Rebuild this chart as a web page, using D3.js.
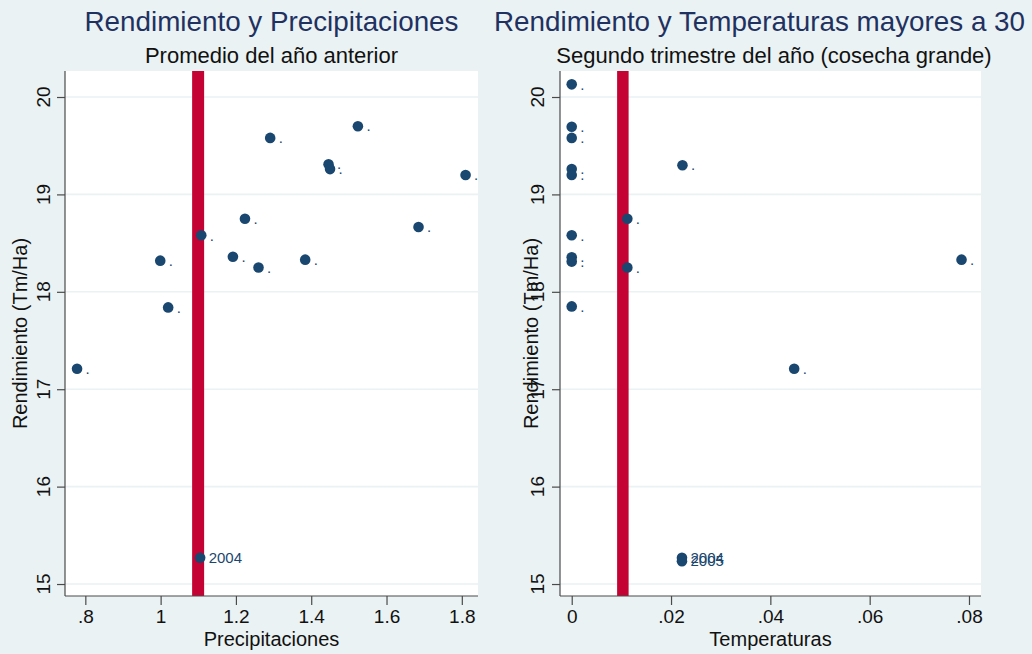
<!DOCTYPE html>
<html>
<head>
<meta charset="utf-8">
<script src="https://cdn.jsdelivr.net/npm/d3@7"></script>
<style>
  html, body { margin: 0; padding: 0; background: #eaf2f3; }
  svg { display: block; font-family: "Liberation Sans", Arial, Helvetica, sans-serif; }
</style>
</head>
<body>
<svg id="chart" width="1032" height="654"></svg>
<script>
// Yield (Tm/Ha) against previous-year average rainfall
const precipX = [0.778, 0.999, 1.020, 1.108, 1.192, 1.224, 1.260, 1.291, 1.384, 1.446, 1.450, 1.524, 1.685, 1.810, 1.105];
const precipY = [17.21, 18.32, 17.84, 18.58, 18.36, 18.75, 18.25, 19.58, 18.33, 19.31, 19.26, 19.70, 18.665, 19.20, 15.27];
const precipLabel = [".", ".", ".", ".", ".", ".", ".", ".", ".", ".", ".", ".", ".", ".", "2004"];
const precipRef = 1.0996;
const precipTicks = [0.8, 1, 1.2, 1.4, 1.6, 1.8];
const precipTickLabels = [".8", "1", "1.2", "1.4", "1.6", "1.8"];

// Yield against share of second-quarter days above 30 degrees
const tempX = [0, 0, 0, 0, 0, 0.0223, 0.0112, 0, 0, 0, 0.0112, 0, 0.0785, 0.0448, 0.0222, 0.0222];
const tempY = [20.13, 19.695, 19.58, 19.26, 19.20, 19.30, 18.75, 18.58, 18.355, 18.31, 18.25, 17.85, 18.33, 17.21, 15.27, 15.235];
const tempLabel = [".", ".", ".", ".", ".", ".", ".", ".", ".", ".", ".", ".", ".", ".", "2004", "2005"];
const tempRef = 0.0103;
const tempTicks = [0, 0.02, 0.04, 0.06, 0.08];
const tempTickLabels = ["0", ".02", ".04", ".06", ".08"];

const yieldTicks = [15, 16, 17, 18, 19, 20];

const NAVY = "#1a476f";
const RED = "#c40233";
const GRID = "#eaf2f3";
const AXIS = "#4a4a4a";

const svg = d3.select("#chart");

function panel(opts) {
  const { x0, x1, y0, y1, xDomain, yDomain, xs, ys, labels, ref, refWidth,
          xTicks, xTickLabels, title, titleX, titleAnchor, subtitle, subtitleX,
          xTitle, yTitleX, yTickBase } = opts;

  const x = d3.scaleLinear().domain(xDomain).range([x0, x1]);
  const y = d3.scaleLinear().domain(yDomain).range([y1, y0]);
  const g = svg.append("g");

  // plot region
  g.append("rect").attr("x", x0).attr("y", y0)
    .attr("width", x1 - x0).attr("height", y1 - y0).attr("fill", "#ffffff");

  // horizontal grid
  g.selectAll(".grid").data(yieldTicks).join("line")
    .attr("x1", x0).attr("x2", x1)
    .attr("y1", d => y(d)).attr("y2", d => y(d))
    .attr("stroke", GRID).attr("stroke-width", 1.6);

  // reference line
  g.append("line")
    .attr("x1", x(ref)).attr("x2", x(ref))
    .attr("y1", y0).attr("y2", y1)
    .attr("stroke", RED).attr("stroke-width", refWidth);

  // markers
  const pts = xs.map((v, i) => ({ x: v, y: ys[i], label: labels[i] }));
  g.selectAll(".pt").data(pts).join("circle")
    .attr("cx", d => x(d.x)).attr("cy", d => y(d.y)).attr("r", 5.3)
    .attr("fill", NAVY);

  // marker labels
  g.selectAll(".lbl").data(pts).join("text")
    .attr("x", d => x(d.x) + 8.5).attr("y", d => y(d.y) + 5.2)
    .attr("font-size", 15).attr("fill", NAVY)
    .text(d => d.label);

  // y axis
  const yAxis = d3.axisLeft(y).tickValues(yieldTicks).tickSize(8).tickFormat("");
  const ya = g.append("g").attr("transform", `translate(${x0},0)`).call(yAxis);
  ya.select(".domain").attr("d", `M0,${y0}V${y1}`);
  ya.selectAll("path, line").attr("stroke", AXIS).attr("stroke-width", 1.2);
  g.selectAll(".ytl").data(yieldTicks).join("text")
    .attr("transform", d => `translate(${yTickBase},${y(d)}) rotate(-90)`)
    .attr("text-anchor", "middle").attr("font-size", 19).attr("fill", "#111")
    .text(d => d3.format("d")(d));

  // x axis
  const xAxis = d3.axisBottom(x).tickValues(xTicks).tickSize(9)
    .tickFormat((d, i) => xTickLabels[i]);
  const xa = g.append("g").attr("transform", `translate(0,${y1})`).call(xAxis);
  xa.select(".domain").attr("d", `M${x0},0H${x1}`);
  xa.selectAll("path, line").attr("stroke", AXIS).attr("stroke-width", 1.2);
  xa.selectAll("text").attr("font-size", 19).attr("fill", "#111")
    .attr("font-family", "Liberation Sans, Arial, sans-serif")
    .attr("y", 14).attr("dy", "0.71em");

  // axis titles
  g.append("text").attr("x", (x0 + x1) / 2).attr("y", 646)
    .attr("text-anchor", "middle").attr("font-size", 20).attr("fill", "#111")
    .text(xTitle);
  g.append("text")
    .attr("transform", `translate(${yTitleX},${(y0 + y1) / 2}) rotate(-90)`)
    .attr("text-anchor", "middle").attr("font-size", 20).attr("fill", "#111")
    .text("Rendimiento (Tm/Ha)");

  // titles
  g.append("text").attr("x", titleX).attr("y", 31)
    .attr("text-anchor", titleAnchor).attr("font-size", 27.8).attr("fill", "#1f3161")
    .text(title);
  g.append("text").attr("x", subtitleX).attr("y", 63)
    .attr("text-anchor", "middle").attr("font-size", 22).attr("fill", "#111")
    .text(subtitle);
}

panel({
  x0: 65, x1: 478, y0: 71, y1: 596,
  xDomain: [0.746, 1.843], yDomain: [14.877, 20.267],
  xs: precipX, ys: precipY, labels: precipLabel,
  ref: precipRef, refWidth: 12,
  xTicks: precipTicks, xTickLabels: precipTickLabels,
  title: "Rendimiento y Precipitaciones", titleX: 271.5, titleAnchor: "middle",
  subtitle: "Promedio del año anterior", subtitleX: 271.5,
  xTitle: "Precipitaciones", yTitleX: 27, yTickBase: 50
});

panel({
  x0: 560, x1: 981, y0: 71, y1: 596,
  xDomain: [-0.00236, 0.08242], yDomain: [14.877, 20.267],
  xs: tempX, ys: tempY, labels: tempLabel,
  ref: tempRef, refWidth: 11.5,
  xTicks: tempTicks, xTickLabels: tempTickLabels,
  title: "Rendimiento y Temperaturas mayores a 30", titleX: 494, titleAnchor: "start",
  subtitle: "Segundo trimestre del año (cosecha grande)", subtitleX: 774,
  xTitle: "Temperaturas", yTitleX: 538, yTickBase: 544
});
</script>
</body>
</html>
